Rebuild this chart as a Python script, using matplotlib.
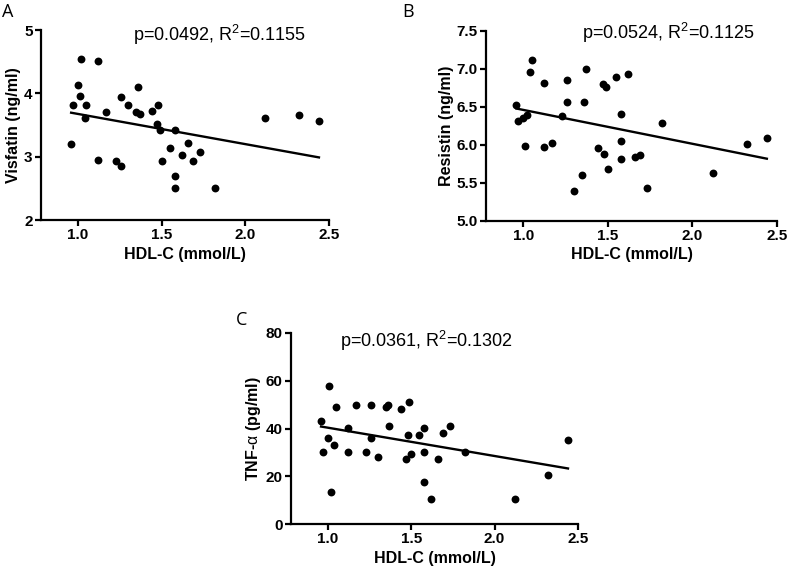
import matplotlib
matplotlib.use("Agg")
import matplotlib.pyplot as plt
import numpy as np

plt.rcParams["font.family"] = ["Liberation Sans", "DejaVu Sans"]
plt.rcParams["mathtext.fontset"] = "custom"
plt.rcParams["mathtext.rm"] = "Liberation Sans"
plt.rcParams["mathtext.it"] = "Liberation Sans:italic"

# HDL-C (mmol/L), shared by the three panels
hdl = [0.96, 0.97, 1.00, 1.01, 1.02, 1.04, 1.05, 1.12, 1.12, 1.17, 1.23, 1.26, 1.26, 1.30,
       1.35, 1.36, 1.37, 1.44, 1.47, 1.48, 1.49, 1.50, 1.55, 1.58, 1.58, 1.58, 1.62, 1.66,
       1.69, 1.73, 1.82, 2.12, 2.32, 2.44]
visfatin = [3.20, 3.82, 4.13, 3.95, 4.55, 3.61, 3.81, 4.51, 2.94, 3.70, 2.93, 2.86, 3.94, 3.81,
            3.71, 4.10, 3.68, 3.72, 3.51, 3.81, 3.42, 2.93, 3.13, 3.42, 2.70, 2.51, 3.02, 3.21,
            2.93, 3.07, 2.51, 3.61, 3.65, 3.56]
resistin = [6.52, 6.31, 6.35, 5.99, 6.39, 6.96, 7.12, 6.82, 5.98, 6.03, 6.38, 6.85, 6.57, 5.39,
            5.60, 6.57, 7.00, 5.96, 6.80, 5.88, 6.76, 5.68, 6.89, 6.41, 6.05, 5.82, 6.93, 5.84,
            5.87, 5.43, 6.29, 5.63, 6.01, 6.09]
tnfa = [43.1, 30.2, 36.2, 58.0, 13.5, 33.1, 49.0, 40.3, 30.2, 49.9, 30.2, 49.9, 36.2, 28.2,
        49.0, 49.9, 41.0, 48.0, 27.1, 37.1, 51.0, 29.2, 37.1, 40.3, 30.2, 17.4, 10.4, 27.1,
        38.1, 41.0, 30.2, 10.4, 20.4, 35.0]

stats_txt = ["p=0.0492, R$^2$=0.1155", "p=0.0524, R$^2$=0.1125", "p=0.0361, R$^2$=0.1302"]
ylabels = ["Visfatin (ng/ml)", "Resistin (ng/ml)", r"TNF-$\mathrm{\alpha}$ (pg/ml)"]
yticks = [[2, 3, 4, 5], [5.0, 5.5, 6.0, 6.5, 7.0, 7.5], [0, 20, 40, 60, 80]]
yticklabels = [["2", "3", "4", "5"], ["5.0", "5.5", "6.0", "6.5", "7.0", "7.5"],
               ["0", "20", "40", "60", "80"]]
xticks = [1.0, 1.5, 2.0, 2.5]
letters = ["A", "B", "C"]

W, H = 787, 573
fig = plt.figure(figsize=(W / 100, H / 100), dpi=100)

# axes boxes in pixels: left, top, right, bottom
boxes = [(41, 30, 329, 220), (486, 31, 777, 221), (291, 333, 578, 524)]
txt_pos = [(0.32, 0.975), (0.33, 0.99), (0.17, 0.96)]
letter_pos = [(2, 12), (402, 12), (236, 320)]

for i, ys in enumerate([visfatin, resistin, tnfa]):
    l, t, r, b = boxes[i]
    ax = fig.add_axes([l / W, 1 - b / H, (r - l) / W, (b - t) / H])
    x = np.array(hdl)
    y = np.array(ys)
    ax.scatter(x, y, s=32, color="black", zorder=3, linewidths=0)
    k, c = np.polyfit(x, y, 1)
    xx = np.array([x.min(), x.max()])
    ax.plot(xx, k * xx + c, color="black", lw=1.7)
    ax.set_xlim(0.78, 2.5)
    ax.set_ylim(yticks[i][0], yticks[i][-1])
    ax.set_xticks(xticks)
    ax.set_xticklabels([f"{v:.1f}" for v in xticks], fontweight="bold", fontsize=11)
    ax.set_yticks(yticks[i])
    ax.set_yticklabels(yticklabels[i], fontweight="bold", fontsize=11)
    for s in ["top", "right"]:
        ax.spines[s].set_visible(False)
    for s in ["left", "bottom"]:
        ax.spines[s].set_linewidth(1.6)
    ax.tick_params(direction="out", length=4, width=1.6, pad=2)
    ax.set_xlabel("HDL-C (mmol/L)", fontweight="bold", fontsize=11.5, labelpad=3)
    ax.set_ylabel(ylabels[i], fontweight="bold", fontsize=11.5, labelpad=2)
    ax.text(txt_pos[i][0], txt_pos[i][1], stats_txt[i], transform=ax.transAxes,
            fontsize=13, va="center", ha="left")
    fig.text(letter_pos[i][0] / W, 1 - letter_pos[i][1] / H, letters[i],
             fontsize=13, va="center", ha="left", family=["Open Sans", "DejaVu Sans"])

fig.savefig("out.png", dpi=100)
